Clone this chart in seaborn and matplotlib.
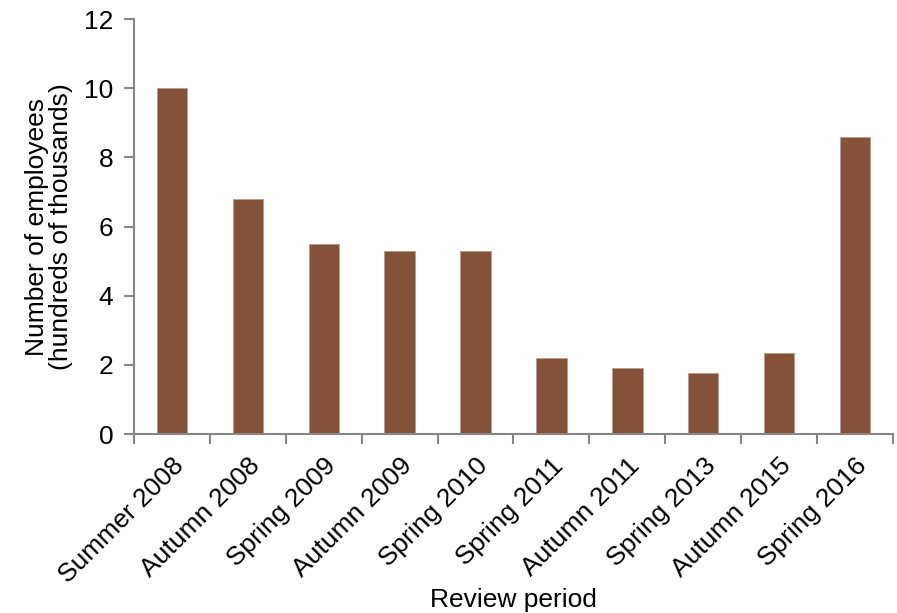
import matplotlib
matplotlib.use("Agg")
import matplotlib.pyplot as plt
import seaborn as sns
import pandas as pd
import numpy as np

periods = ["Summer 2008", "Autumn 2008", "Spring 2009", "Autumn 2009", "Spring 2010",
           "Spring 2011", "Autumn 2011", "Spring 2013", "Autumn 2015", "Spring 2016"]
employees = [10.0, 6.8, 5.5, 5.3, 5.3, 2.2, 1.9, 1.75, 2.35, 8.6]
y_ticks = [0, 2, 4, 6, 8, 10, 12]

sns.set_style("white")
plt.rcParams["font.family"] = ["Liberation Sans", "DejaVu Sans"]

df = pd.DataFrame({"period": periods, "employees": employees})

fig = plt.figure(figsize=(8.97, 6.13), dpi=100)
ax = fig.add_axes([0.1494, 0.292, 0.8461, 0.677])

sns.barplot(data=df, x="period", y="employees", color="#845239", width=0.4,
            saturation=1, edgecolor="#b89a8a", linewidth=0.6, ax=ax)

axis_grey = "#868686"
fs = 19
ax.set_xlim(-0.5, len(periods) - 0.5)
ax.set_ylim(0, 12)
ax.set_yticks(y_ticks)
ax.set_yticklabels([str(t) for t in y_ticks], fontsize=fs, color="black")

ax.set_xticks(range(len(periods)))
ax.set_xticklabels(periods, rotation=45, ha="right", rotation_mode="anchor",
                   fontsize=fs, color="black")
ax.set_xticks(np.arange(-0.5, len(periods), 1.0), minor=True)
ax.tick_params(axis="x", which="major", bottom=True, length=0, pad=14)
ax.tick_params(axis="x", which="minor", bottom=True, length=7, width=1.5,
               color=axis_grey, direction="out")
ax.tick_params(axis="y", which="major", left=True, length=7, width=1.5,
               color=axis_grey, direction="out", pad=8)

for side in ["top", "right"]:
    ax.spines[side].set_visible(False)
for side in ["left", "bottom"]:
    ax.spines[side].set_color(axis_grey)
    ax.spines[side].set_linewidth(1.5)

ax.set_xlabel("Review period", fontsize=fs, color="black", labelpad=0)
ax.set_ylabel("Number of employees\n(hundreds of thousands)", fontsize=fs,
              color="black", labelpad=8, linespacing=1.0)

fig.savefig("out.png", dpi=100)
